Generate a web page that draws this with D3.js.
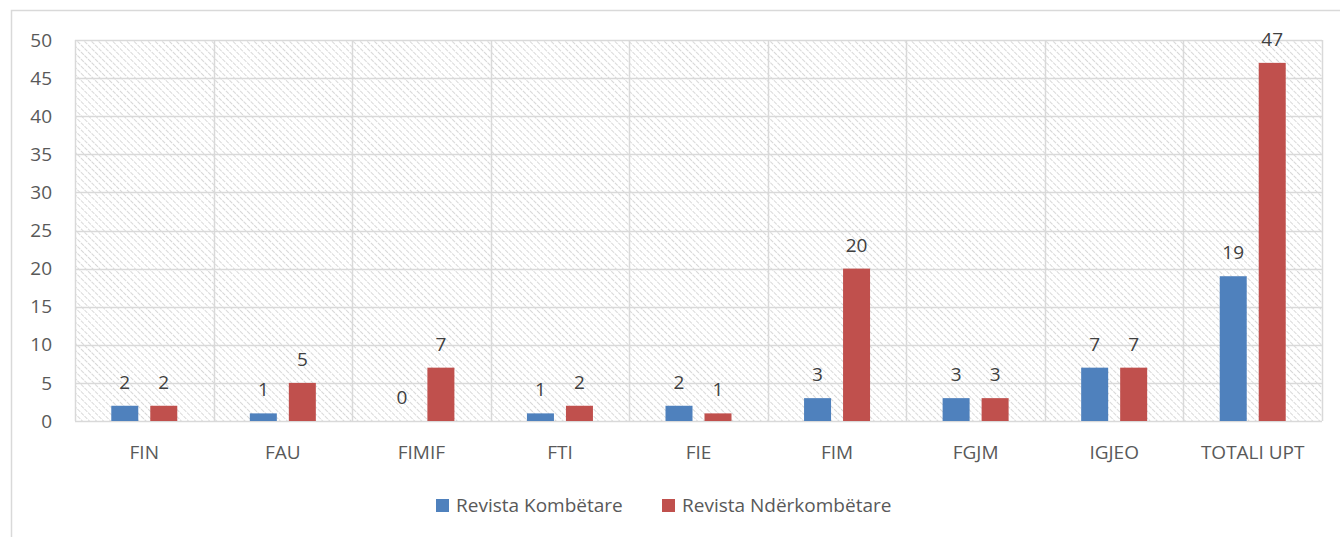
<!DOCTYPE html>
<html>
<head>
<meta charset="utf-8">
<script src="https://cdn.jsdelivr.net/npm/d3@7"></script>
<style>
  body { margin: 0; background: white; }
  svg { display: block; }
</style>
</head>
<body>
<div id="chart"></div>
<script>
// data
var categories = ['FIN', 'FAU', 'FIMIF', 'FTI', 'FIE', 'FIM', 'FGJM', 'IGJEO', 'TOTALI UPT'];
var kombetare = [2, 1, 0, 1, 2, 3, 3, 7, 19];
var nderkombetare = [2, 5, 7, 2, 1, 20, 3, 7, 47];
var seriesNames = ['Revista Kombëtare', 'Revista Ndërkombëtare'];
var seriesColors = ['#4F81BD', '#C0504D'];
var yTicks = [0, 5, 10, 15, 20, 25, 30, 35, 40, 45, 50];

var width = 1340, height = 537;
var plot = { left: 75, top: 40, right: 1322, bottom: 421 };
var font = '"Open Sans", Lato, sans-serif';
var fs = '19px';

var svg = d3.select('#chart').append('svg')
    .attr('width', width).attr('height', height);

// hatch pattern for plot background
var pat = svg.append('defs').append('pattern')
    .attr('id', 'hatch')
    .attr('patternUnits', 'userSpaceOnUse')
    .attr('width', 5).attr('height', 5)
    .attr('patternTransform', 'rotate(-45)');
pat.append('line')
    .attr('x1', 0).attr('y1', 0).attr('x2', 0).attr('y2', 5)
    .attr('stroke', '#c8c8c8').attr('stroke-width', 1.4)
    .attr('stroke-dasharray', '3,1');

// outer chart border
svg.append('rect')
    .attr('x', 11.5).attr('y', 10.5)
    .attr('width', width + 20).attr('height', height + 20)
    .attr('fill', 'none').attr('stroke', '#d9d9d9').attr('stroke-width', 1.5);

// scales
var x = d3.scaleBand().domain(categories).range([plot.left, plot.right]).padding(0);
var y = d3.scaleLinear().domain([0, 50]).range([plot.bottom, plot.top]);

svg.append('rect')
    .attr('x', plot.left).attr('y', plot.top)
    .attr('width', plot.right - plot.left).attr('height', plot.bottom - plot.top)
    .attr('fill', 'url(#hatch)');

// horizontal grid
svg.append('g').selectAll('line')
    .data(yTicks).enter().append('line')
    .attr('x1', plot.left).attr('x2', plot.right)
    .attr('y1', function(d) { return Math.round(y(d)) + 0.5; })
    .attr('y2', function(d) { return Math.round(y(d)) + 0.5; })
    .attr('stroke', '#d9d9d9').attr('stroke-width', 1.5);

// vertical grid (category separators)
var seps = categories.map(function(c) { return x(c); }).concat([plot.right]);
svg.append('g').selectAll('line')
    .data(seps).enter().append('line')
    .attr('x1', function(d) { return Math.round(d) + 0.5; })
    .attr('x2', function(d) { return Math.round(d) + 0.5; })
    .attr('y1', plot.top).attr('y2', plot.bottom)
    .attr('stroke', '#d9d9d9').attr('stroke-width', 1.5);

// y axis labels
svg.append('g').selectAll('text')
    .data(yTicks).enter().append('text')
    .attr('x', 52).attr('y', function(d) { return y(d); })
    .attr('dy', '0.35em')
    .style('text-anchor', 'end')
    .attr('font-family', font).attr('font-size', fs)
    .attr('fill', '#595959')
    .text(function(d) { return d; });

// x axis labels
svg.append('g').selectAll('text')
    .data(categories).enter().append('text')
    .attr('x', function(d) { return x(d) + x.bandwidth() / 2; })
    .attr('y', 452).attr('dy', '0.35em')
    .style('text-anchor', 'middle')
    .attr('font-family', font).attr('font-size', fs)
    .attr('fill', '#595959')
    .text(function(d) { return d; });

// bars
var barW = 27, offset = 19.5;
var series = [kombetare, nderkombetare];
series.forEach(function(vals, si) {
    var g = svg.append('g');
    var dx = si === 0 ? -offset : offset;
    g.selectAll('rect')
        .data(vals).enter().append('rect')
        .attr('x', function(d, i) { return x(categories[i]) + x.bandwidth() / 2 + dx - barW / 2; })
        .attr('y', function(d) { return y(d); })
        .attr('width', barW)
        .attr('height', function(d) { return y(0) - y(d); })
        .attr('fill', seriesColors[si]);
    g.selectAll('text')
        .data(vals).enter().append('text')
        .attr('x', function(d, i) { return x(categories[i]) + x.bandwidth() / 2 + dx; })
        .attr('y', function(d) { return y(d) - 17; })
        .style('text-anchor', 'middle')
        .attr('font-family', font).attr('font-size', fs)
        .attr('fill', '#404040')
        .text(function(d) { return d; });
});

// legend
var legendX = [436, 662];
var legend = svg.append('g').selectAll('g')
    .data(seriesNames).enter().append('g')
    .attr('transform', function(d, i) { return 'translate(' + legendX[i] + ',499)'; });
legend.append('rect')
    .attr('width', 13).attr('height', 13)
    .attr('fill', function(d, i) { return seriesColors[i]; });
legend.append('text')
    .attr('x', 20).attr('y', 6.5).attr('dy', '0.35em')
    .attr('font-family', font).attr('font-size', fs)
    .attr('fill', '#595959')
    .text(function(d) { return d; });
</script>
</body>
</html>
